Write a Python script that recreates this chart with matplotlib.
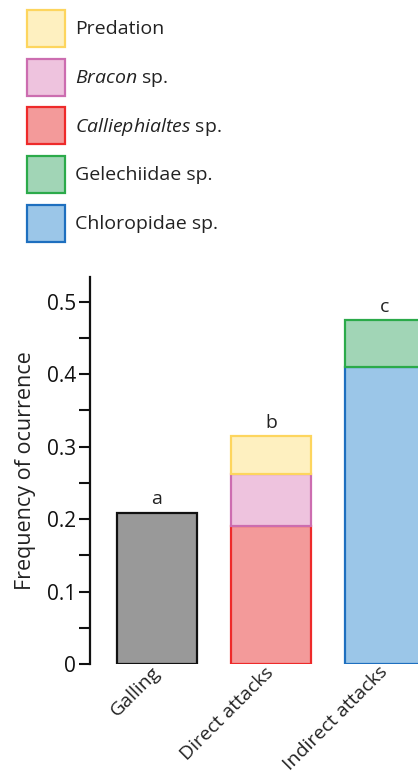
import matplotlib
matplotlib.use("Agg")
import matplotlib.pyplot as plt
from matplotlib.patches import Patch

plt.rcParams['font.family'] = ['Open Sans', 'DejaVu Sans']
plt.rcParams['mathtext.fontset'] = 'custom'
plt.rcParams['mathtext.rm'] = 'Open Sans'
plt.rcParams['mathtext.it'] = 'Open Sans:italic'

# data
categories = ["Galling", "Direct attacks", "Indirect attacks"]
galling = [0.209, 0, 0]
calliephialtes = [0, 0.19, 0]
bracon = [0, 0.072, 0]
predation = [0, 0.052, 0]
chloropidae = [0, 0, 0.41]
gelechiidae = [0, 0, 0.064]
letters = ["a", "b", "c"]

# colours (fill, edge)
c_gall = ("#999999", "#111111")
c_call = ("#F39A9A", "#EE2A2A")
c_brac = ("#EEC3DE", "#CC6DB0")
c_pred = ("#FEF0C0", "#FDD55E")
c_chlo = ("#9BC6E8", "#1E6FBF")
c_gele = ("#A1D5B6", "#2BAA4A")

fig = plt.figure(figsize=(4.18, 7.76), dpi=100)
ax = fig.add_axes([90 / 418, 112 / 776, 1 - 90 / 418, (664 - 277) / 776])

x = list(range(len(categories)))
w = 0.7
lw = 1.6


def stack(vals, bottom, col):
    xs = [xi for xi, v in zip(x, vals) if v > 0]
    hs = [v for v in vals if v > 0]
    bs = [b for b, v in zip(bottom, vals) if v > 0]
    ax.bar(xs, hs, w, bottom=bs, color=col[0], edgecolor=col[1], linewidth=lw)
    return [b + v for b, v in zip(bottom, vals)]


bottom = [0, 0, 0]
bottom = stack(galling, bottom, c_gall)
bottom = stack(calliephialtes, bottom, c_call)
bottom = stack(bracon, bottom, c_brac)
bottom = stack(predation, bottom, c_pred)
bottom = stack(chloropidae, bottom, c_chlo)
bottom = stack(gelechiidae, bottom, c_gele)

for xi, top, lab in zip(x, bottom, letters):
    ax.annotate(lab, (xi, top), xytext=(0, 3.5), textcoords="offset points",
                ha="center", va="bottom", fontsize=14, color="#222222")

ax.set_xlim(-0.588, 2.29)
ax.set_ylim(0, 0.534)
ax.set_yticks([0, 0.1, 0.2, 0.3, 0.4, 0.5])
ax.set_yticklabels(["0", "0.1", "0.2", "0.3", "0.4", "0.5"])
ax.set_yticks([0.05, 0.15, 0.25, 0.35, 0.45], minor=True)
ax.tick_params(axis="y", which="both", length=8, width=1.5, direction="out",
               labelsize=15, colors="#111111", pad=2)
ax.set_xticks(x)
ax.set_xticklabels(categories, rotation=45, ha="right", va="center",
                   rotation_mode="anchor", fontsize=14, color="#222222")
ax.tick_params(axis="x", length=0, pad=4)
ax.set_ylabel("Frequency of ocurrence", fontsize=15.5, color="#222222", labelpad=8)

for s in ["top", "right", "bottom"]:
    ax.spines[s].set_visible(False)
ax.spines["left"].set_linewidth(1.6)
ax.spines["left"].set_color("#111111")

handles = [
    Patch(facecolor=c_pred[0], edgecolor=c_pred[1], linewidth=lw, label="Predation"),
    Patch(facecolor=c_brac[0], edgecolor=c_brac[1], linewidth=lw, label=r"$\it{Bracon}$ sp."),
    Patch(facecolor=c_call[0], edgecolor=c_call[1], linewidth=lw, label=r"$\it{Calliephialtes}$ sp."),
    Patch(facecolor=c_gele[0], edgecolor=c_gele[1], linewidth=lw, label="Gelechiidae sp."),
    Patch(facecolor=c_chlo[0], edgecolor=c_chlo[1], linewidth=lw, label="Chloropidae sp."),
]
leg = fig.legend(handles=handles, loc="upper left",
                 bbox_to_anchor=(27 / 418, 1 - 10 / 776), frameon=False,
                 fontsize=14, handlelength=1.95, handleheight=2.55,
                 labelspacing=0.6, handletextpad=0.5, borderpad=0,
                 borderaxespad=0)
for t in leg.get_texts():
    t.set_color("#222222")

fig.savefig("out.png", dpi=100)
